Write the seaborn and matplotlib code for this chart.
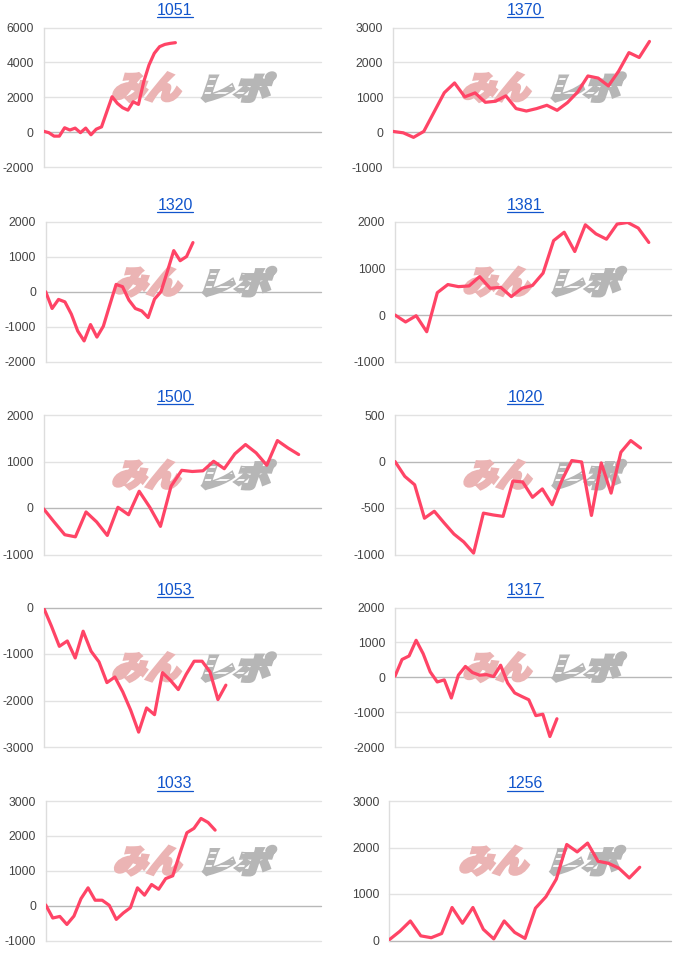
import matplotlib
matplotlib.use("Agg")
import matplotlib.pyplot as plt
import matplotlib.transforms as mtransforms
import seaborn as sns
import numpy as np
import pandas as pd
from matplotlib.textpath import TextPath
from matplotlib.font_manager import FontProperties
from matplotlib.patches import PathPatch
from matplotlib.path import Path
from matplotlib.lines import Line2D

# machine numbers, in reading order (left, right per row)
machines = ["1051", "1370", "1320", "1381", "1500", "1020", "1053", "1317", "1033", "1256"]

diff_1051 = [50, -30, -230, -230, 250, 120, 230, -30, 230, -150, 170, 300, 1170, 2030,
             1650, 1400, 1260, 1740, 1590, 2890, 3850, 4520, 4900, 5030, 5090, 5130]
diff_1370 = [20, -20, -150, 20, 575, 1130, 1410, 1010, 1125, 855, 885, 1040, 675, 605,
             675, 770, 625, 845, 1150, 1610, 1550, 1325, 1750, 2280, 2140, 2600]
diff_1320 = [0, -480, -220, -290, -640, -1125, -1410, -940, -1300, -990, -385, 210, 145,
             -240, -480, -550, -740, -210, 0, 580, 1180, 890, 1010, 1410]
diff_1381 = [0, -150, -15, -360, 480, 655, 610, 625, 825, 575, 595, 395, 575, 635, 900,
             1600, 1780, 1365, 1940, 1745, 1630, 1955, 1990, 1870, 1560]
diff_1500 = [-15, -300, -575, -620, -85, -300, -590, 15, -145, 360, 15, -395, 470, 810,
             785, 800, 1005, 845, 1165, 1365, 1185, 920, 1450, 1290, 1150]
diff_1020 = [0, -160, -250, -610, -535, -660, -780, -865, -985, -555, -575, -590, -210,
             -220, -385, -295, -465, -200, 10, -5, -580, -15, -340, 100, 225, 145]
diff_1053 = [0, -400, -835, -720, -1085, -510, -940, -1170, -1615, -1495, -1815, -2210,
             -2680, -2160, -2305, -1400, -1565, -1765, -1435, -1155, -1155, -1385, -1980, -1670]
diff_1317 = [30, 510, 610, 1060, 675, 155, -135, -75, -595, 60, 310, 135, 60, 75, 20, 345,
             -165, -450, -550, -645, -1100, -1060, -1700, -1190]
diff_1033 = [20, -355, -310, -540, -300, 200, 510, 155, 155, 10, -395, -210, -60, 510, 300,
             605, 470, 775, 855, 1495, 2090, 2215, 2500, 2385, 2165]
diff_1256 = [20, 200, 420, 100, 60, 150, 710, 370, 710, 240, 35, 420, 175, 45, 695, 940,
             1320, 2065, 1905, 2095, 1705, 1660, 1555, 1345, 1575]

series = [diff_1051, diff_1370, diff_1320, diff_1381, diff_1500,
          diff_1020, diff_1053, diff_1317, diff_1033, diff_1256]

# axis settings per panel
y_min = [-2000, -1000, -2000, -1000, -1000, -1000, -3000, -2000, -1000, 0]
y_max = [6000, 3000, 2000, 2000, 2000, 500, 0, 2000, 3000, 3000]
y_step = [2000, 1000, 1000, 1000, 1000, 500, 1000, 1000, 1000, 1000]
x_span = [52.6, 27.1, 43.0, 26.1, 26.1, 28.1, 35.0, 39.2, 39.0, 27.0]

# layout in pixels
W, H = 700, 965
row_top = [27.5, 222, 415, 607.5, 801]
plot_h = 139.5
plot_left = [43.5, 393, 45.7, 395, 43.5, 395, 43.5, 395, 45.7, 389.5]
plot_right = [321, 671]
cell_center = [175, 525]

LINE = "#ff4466"
TITLE = "#1155cc"

sns.set_style("white")
plt.rcParams["font.family"] = ["Liberation Sans", "DejaVu Sans"]

fig = plt.figure(figsize=(W / 100, H / 100), dpi=100)
fig.patch.set_facecolor("white")

logo_font = FontProperties(family="Noto Sans CJK JP", weight="black")


def add_logo(ax, text, x0, x1, y0, y1, color, slant=0.12, stripes=False):
    tp = TextPath((0, 0), text, size=40, prop=logo_font)
    v = tp.vertices.copy()
    mn, mx = v.min(axis=0), v.max(axis=0)
    n = (v - mn) / (mx - mn)
    xs = n[:, 0] * (1 - slant) + slant * n[:, 1]
    v2 = np.column_stack([x0 + xs * (x1 - x0), y0 + n[:, 1] * (y1 - y0)])
    patch = PathPatch(Path(v2, tp.codes), transform=ax.transAxes, facecolor=color,
                      edgecolor=color, lw=2.2, joinstyle="miter", zorder=1.2, clip_on=False)
    ax.add_patch(patch)
    if stripes:
        for f in [0.3, 0.55, 0.78]:
            yy = y0 + f * (y1 - y0)
            ln = Line2D([x0, x0 + 0.6 * (x1 - x0)], [yy, yy], transform=ax.transAxes,
                        color="white", lw=1.3, zorder=1.3)
            ax.add_line(ln)
            ln.set_clip_path(patch)


titles = []
for i, (name, vals) in enumerate(zip(machines, series)):
    row, col = divmod(i, 2)
    left = plot_left[i]
    right = plot_right[col]
    top = row_top[row]
    ax = fig.add_axes([left / W, 1 - (top + plot_h) / H, (right - left) / W, plot_h / H])
    ax.set_facecolor("none")

    df = pd.DataFrame({"x": np.arange(len(vals)), "y": vals})
    sns.lineplot(data=df, x="x", y="y", ax=ax, color=LINE, lw=2.3, zorder=3)

    ax.set_xlim(0, x_span[i])
    ax.set_ylim(y_min[i], y_max[i])
    ticks = np.arange(y_min[i], y_max[i] + 1, y_step[i])
    ax.set_yticks(ticks)
    ax.set_yticklabels([str(int(t)) for t in ticks], fontsize=8.7, color="#444444")
    ax.set_xticks([])
    ax.set_xlabel("")
    ax.set_ylabel("")
    ax.tick_params(axis="y", length=0, pad=7)
    for t in ticks:
        c = "#b8b8b8" if t == 0 else "#e2e2e2"
        ax.axhline(t, color=c, lw=1, zorder=0.5, clip_on=False)
    for s in ["top", "right", "bottom"]:
        ax.spines[s].set_visible(False)
    ax.spines["left"].set_color("#dddddd")
    ax.spines["left"].set_linewidth(1)
    ax.spines["left"].set_zorder(0.6)

    add_logo(ax, "みん", 0.24, 0.515, 0.47, 0.675, "#ebb4b4")
    add_logo(ax, "レポ", 0.545, 0.84, 0.47, 0.675, "#b6b6b6", stripes=True)

    ty = 1 - (top - 12.5) / H
    t = fig.text(cell_center[col] / W, ty, name, color=TITLE, fontsize=11.5,
                 ha="center", va="baseline")
    titles.append(t)

fig.canvas.draw()
renderer = fig.canvas.get_renderer()
for t in titles:
    bb = t.get_window_extent(renderer)
    base = fig.transFigure.transform(t.get_position())[1]
    y = base - 2
    fig.add_artist(Line2D([bb.x0, bb.x1], [y, y], transform=mtransforms.IdentityTransform(),
                          color=TITLE, lw=0.9))

fig.savefig("out.png", dpi=100, facecolor="white")
